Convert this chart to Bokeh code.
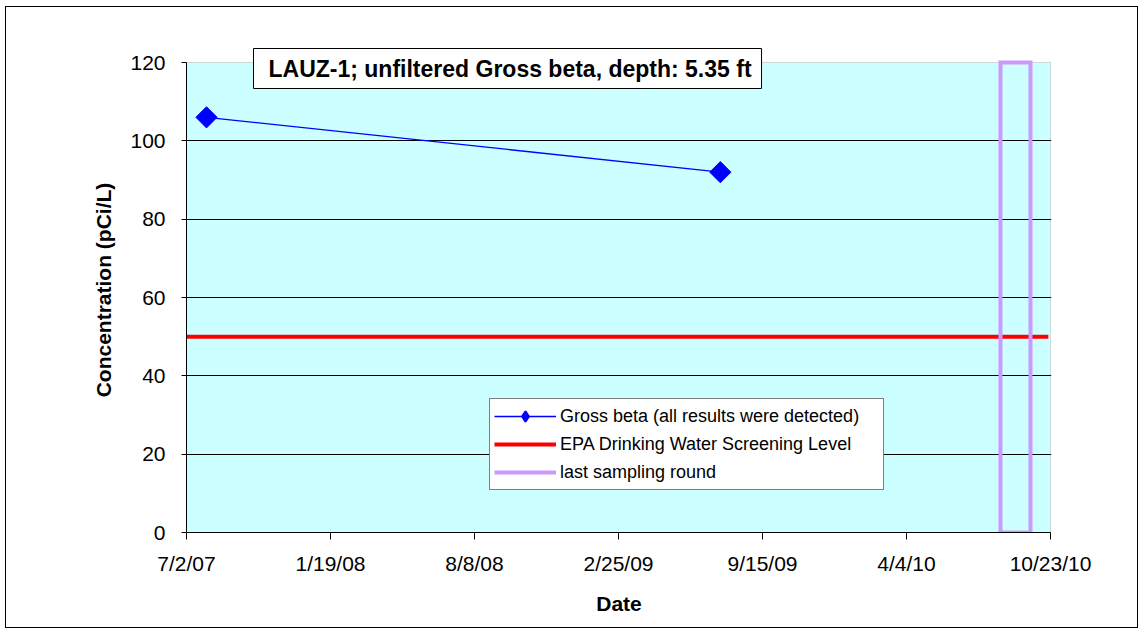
import datetime as dt
from bokeh.plotting import figure
from bokeh.models import Range1d, FixedTicker, Label, Legend, LegendItem, BoxAnnotation
from bokeh.embed import file_html
from bokeh.resources import INLINE

# ---------------- data ----------------
title_text = "LAUZ-1; unfiltered Gross beta, depth: 5.35 ft"
x_axis_start = "2007-07-02"
x_axis_end = "2010-10-23"
x_tick_labels = ["7/2/07", "1/19/08", "8/8/08", "2/25/09", "9/15/09", "4/4/10", "10/23/10"]
y_ticks = [0, 20, 40, 60, 80, 100, 120]

gross_label = "Gross beta (all results were detected)"
gross_dates = ["2007-07-30", "2009-07-18"]
gross_values = [106, 92]

epa_label = "EPA Drinking Water Screening Level"
epa_dates = ["2007-07-02", "2010-10-20"]
epa_values = [50, 50]

last_label = "last sampling round"
last_round_dates = ["2010-08-14", "2010-09-25"]
last_round_values = [0, 120]


def ms(s):
    d = dt.datetime.strptime(s, "%Y-%m-%d").replace(tzinfo=dt.timezone.utc)
    return int(d.timestamp() * 1000)


FONT = "Liberation Sans"

x0, x1 = ms(x_axis_start), ms(x_axis_end)
n = len(x_tick_labels) - 1
x_ticks = [x0 + k * (x1 - x0) // n for k in range(n + 1)]

# plot area: 864 x 470 px for the axes' ranges, plus a 15 px white band on top
# (so the title box may overlap the top of the plot area) and 1 px on the right
AXIS_W, AXIS_PX, BAND_PX, EXTRA_W = 864, 470, 15, 1
y_lo, y_hi = y_ticks[0], y_ticks[-1]
y_top = y_hi + (y_hi - y_lo) * BAND_PX / AXIS_PX
x_end = x1 + (x1 - x0) * EXTRA_W / AXIS_W

p = figure(
    frame_width=AXIS_W + EXTRA_W, frame_height=AXIS_PX + BAND_PX,
    min_border_left=180, min_border_right=86, min_border_top=40, min_border_bottom=95,
    x_range=Range1d(x0, x_end), y_range=Range1d(y_lo, y_top),
    output_backend="svg", toolbar_location=None,
    background_fill_color="white", border_fill_color="white",
    outline_line_color=None,
    margin=(7, 0, 0, 6),
)
p.styles = {"outline": "1px solid #000000"}

# plot-area fill (below the grid) and grey plot-area border (above the grid)
p.add_layout(BoxAnnotation(left=x0, right=x1, bottom=y_lo, top=y_hi,
                           fill_color="#CCFFFF", fill_alpha=1, line_color=None,
                           level="image"))
p.add_layout(BoxAnnotation(left=x0, right=x1, bottom=y_lo, top=y_hi,
                           fill_color=None, fill_alpha=0,
                           line_color="#808080", line_width=1, level="underlay"))

# grid
p.xgrid.grid_line_color = None
p.ygrid.ticker = FixedTicker(ticks=y_ticks[:-1])
p.ygrid.grid_line_color = "black"
p.ygrid.grid_line_width = 1

# axes
p.xaxis.ticker = FixedTicker(ticks=x_ticks)
p.xaxis.major_label_overrides = {t: lab for t, lab in zip(x_ticks, x_tick_labels)}
p.xaxis.bounds = (x0, x1)
p.yaxis.ticker = FixedTicker(ticks=y_ticks)
p.yaxis.bounds = (y_lo, y_hi)
for ax in (p.xaxis, p.yaxis):
    ax.axis_line_color = "black"
    ax.major_tick_line_color = "black"
    ax.minor_tick_line_color = None
    ax.major_tick_in = 0
    ax.major_label_text_font = FONT
    ax.major_label_text_font_size = "21px"
    ax.major_label_text_color = "black"
    ax.axis_label_text_font = FONT
    ax.axis_label_text_font_size = "21px"
    ax.axis_label_text_font_style = "bold"
    ax.axis_label_text_color = "black"
p.xaxis.major_tick_out = 7
p.yaxis.major_tick_out = 5
p.xaxis.major_label_standoff = 12
p.yaxis.major_label_standoff = 16
p.xaxis.axis_label = "Date"
p.yaxis.axis_label = "Concentration (pCi/L)"
p.xaxis.axis_label_standoff = 14
p.yaxis.axis_label_standoff = 12

# series
g_x = [ms(d) for d in gross_dates]
gl = p.line(g_x, gross_values, line_color="#0000FF", line_width=1.3)
gs = p.scatter(g_x, gross_values, marker="square", angle=0.785398, size=15,
               fill_color="#0000FF", line_color="#0000FF")
# same points, used only for the legend swatch (diamond shape)
gd = p.scatter(g_x, gross_values, marker="diamond", size=12, line_width=2,
               fill_color="#0000FF", line_color="#0000FF", visible=False)

e_x = [ms(d) for d in epa_dates]
el = p.line(e_x, epa_values, line_color="#FF0000", line_width=4)

la, lb = [ms(d) for d in last_round_dates]
ylo, yhi = last_round_values
ll = p.line([la, la, lb, lb, la], [ylo, yhi, yhi, ylo, ylo],
            line_color="#CC99FF", line_width=4, line_join="miter")

legend = Legend(
    items=[LegendItem(label=gross_label, renderers=[gl, gd]),
           LegendItem(label=epa_label, renderers=[el]),
           LegendItem(label=last_label, renderers=[ll])],
    location=(303, 42),
    label_text_font=FONT, label_text_font_size="18px", label_text_color="black",
    glyph_width=62, glyph_height=26, label_height=20, label_width=319,
    label_standoff=4, spacing=2, padding=4, margin=0,
    border_line_color="black", border_line_width=1,
    background_fill_color="white", background_fill_alpha=1,
    inactive_fill_alpha=0,
)
p.add_layout(legend)

title = Label(
    x=67, y=AXIS_PX + BAND_PX - 1, x_units="screen", y_units="screen", anchor="top_left",
    text=title_text, text_font=FONT, text_font_size="23px", text_font_style="bold",
    text_color="black", padding=(15, 10, 7, 7),
    background_fill_color="white", border_line_color="black", border_line_width=1,
)
p.add_layout(title)

open("out.html", "w").write(file_html(p, INLINE))
